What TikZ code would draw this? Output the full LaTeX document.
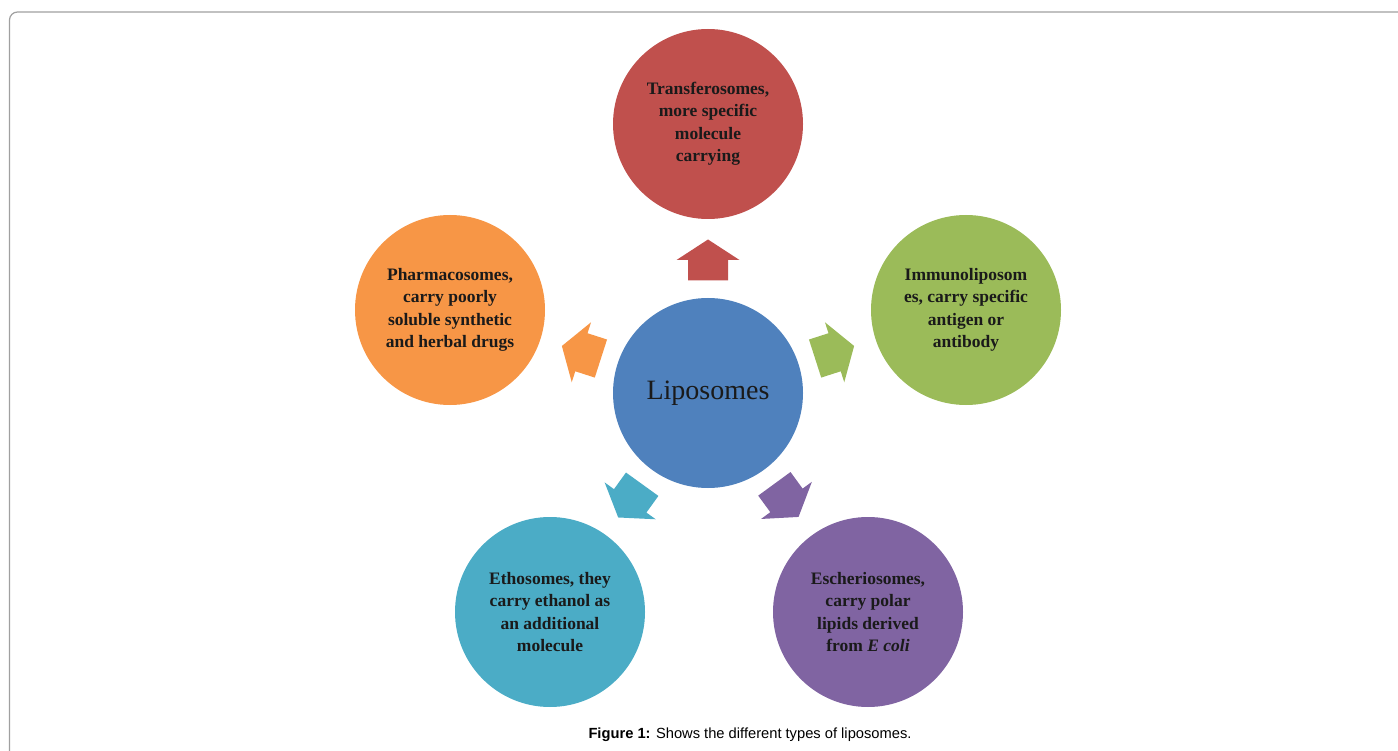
\documentclass[tikz,border=0pt]{standalone}
\usepackage{fontspec}
\setmainfont{Liberation Serif}
\newfontfamily\capfont{Liberation Sans}
\usetikzlibrary{calc}
\definecolor{cred}{HTML}{C0504D}
\definecolor{cgreen}{HTML}{9BBB59}
\definecolor{corange}{HTML}{F79646}
\definecolor{cteal}{HTML}{4BACC6}
\definecolor{cpurple}{HTML}{8064A2}
\definecolor{cblue}{HTML}{4F81BD}
\definecolor{ctext}{HTML}{1A1A1A}
\definecolor{cframe}{HTML}{A0A0A0}
\newcommand\blockarrow[3]{%
  \pgfmathanglebetweenpoints{\pgfpointanchor{#1}{center}}{\pgfpointanchor{#2}{center}}%
  \let\arrang\pgfmathresult
  \begin{scope}[shift={($(#1)!133pt!(#2)$)}, rotate=\arrang]
    \fill[#3] (-20.5,-20) -- (0,-20) -- (0,-31.5) -- (20.5,0) -- (0,31.5) -- (0,20) -- (-20.5,20) -- cycle;
  \end{scope}}
\begin{document}
\begin{tikzpicture}[x=1pt,y=-1pt,
  bubble/.style={circle, minimum size=190pt, inner sep=0pt, align=center, text=ctext,
    font=\bfseries\fontsize{17.5}{22.5}\selectfont},
  framebox/.style={draw=cframe, line width=1.2pt, rounded corners=8pt}]
\useasboundingbox (0,0) rectangle (1398,751);
\draw[framebox] (9.5,12) rectangle (1420,770);
\node[bubble, fill=cblue, font=\fontsize{28}{32}\selectfont] (c) at (708,393) {Liposomes};
\node[bubble, fill=cred] (t) at (708,124) {Transferosomes,\\more specific\\molecule\\carrying};
\node[bubble, fill=cgreen] (r) at (966,310) {Immunoliposom\\es, carry specific\\antigen or\\antibody};
\node[bubble, fill=corange] (l) at (450,310) {Pharmacosomes,\\carry poorly\\soluble synthetic\\and herbal drugs};
\node[bubble, fill=cteal] (bl) at (550,612) {Ethosomes, they\\carry ethanol as\\an additional\\molecule};
\node[bubble, fill=cpurple] (br) at (868,612) {Escheriosomes,\\carry polar\\lipids derived\\from \textit{E coli}};
\blockarrow{c}{t}{cred}
\blockarrow{c}{r}{cgreen}
\blockarrow{c}{l}{corange}
\blockarrow{c}{bl}{cteal}
\blockarrow{c}{br}{cpurple}
\node[font=\capfont\fontsize{14.7}{17}\selectfont] (cap) at (750,735) {\textbf{Figure 1:} Shows the different types of liposomes.};
\end{tikzpicture}
\end{document}
